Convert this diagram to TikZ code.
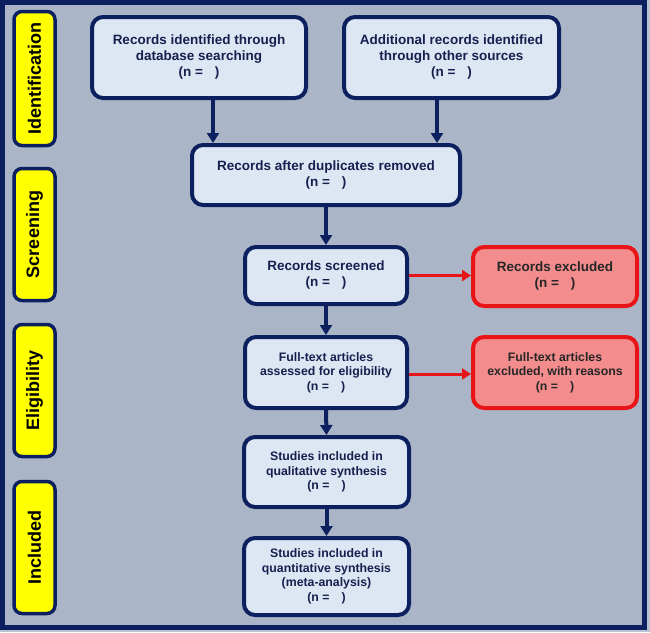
\documentclass[tikz,border=0pt]{standalone}
\usepackage{fontspec}
\setmainfont{Liberation Sans}
\usetikzlibrary{arrows.meta}
\definecolor{bgc}{RGB}{170,182,200}
\definecolor{outerc}{RGB}{185,194,208}
\definecolor{navy}{RGB}{12,32,96}
\definecolor{boxc}{RGB}{221,231,243}
\definecolor{txtc}{RGB}{22,32,78}
\definecolor{redl}{RGB}{232,20,24}
\definecolor{redf}{RGB}{243,140,140}
\definecolor{yel}{RGB}{255,255,0}
\tikzset{
 flow/.style={draw=navy, line width=4pt, fill=boxc, rounded corners=11pt, align=center, text=txtc, font=\bfseries\fontsize{13.5}{16}\selectfont, inner sep=0pt},
 flows/.style={flow, font=\bfseries\fontsize{12.3}{14.5}\selectfont},
 excl/.style={flow, draw=redl, fill=redf, text=black!85},
 phase/.style={draw=navy, line width=3.5pt, fill=yel, rounded corners=8pt, rotate=90, font=\bfseries\fontsize{18}{20}\selectfont, minimum height=41pt, inner sep=0pt},
 arr/.style={draw=navy, line width=4pt, -{Triangle[length=10pt,width=12pt]}},
 rarr/.style={draw=redl, line width=3pt, -{Triangle[length=9pt,width=11pt]}},
}
\newcommand{\nn}{(n =\hspace{12pt})}
\begin{document}
\begin{tikzpicture}[x=1pt,y=-1pt]
\useasboundingbox (0,0) rectangle (650,632);
\fill[outerc] (0,0) rectangle (650,632);
\draw[navy, line width=5pt, fill=bgc] (2.5,2.5) rectangle (644.5,627.5);

% phase labels
\node[phase, minimum width=134pt] (pid) at (34.5,78.5) {Identification};
\node[phase, minimum width=132pt] (psc) at (34.5,234.5) {Screening};
\node[phase, minimum width=132pt] (pel) at (34.5,390.5) {Eligibility};
\node[phase, minimum width=132pt] (pin) at (34.5,547.5) {Included};

% flow boxes
\node[flow, minimum width=214pt, minimum height=81pt] (id1) at (199,57.5) {Records identified through\\database searching\\\nn};
\node[flow, minimum width=215pt, minimum height=81pt] (id2) at (451.5,57.5) {Additional records identified\\through other sources\\\nn};
\node[flow, minimum width=268pt, minimum height=60pt] (dup) at (326,175) {Records after duplicates removed\\\nn};
\node[flow, minimum width=162pt, minimum height=57pt] (scr) at (326,275.5) {Records screened\\\nn};
\node[excl, minimum width=164pt, minimum height=59pt] (exc) at (555,276.5) {Records excluded\\\nn};
\node[flows, minimum width=162pt, minimum height=71pt] (full) at (326,372.5) {Full-text articles\\assessed for eligibility\\\nn};
\node[excl, font=\bfseries\fontsize{12.3}{14.5}\selectfont, minimum width=164pt, minimum height=71pt] (fexc) at (555,372.5) {Full-text articles\\excluded, with reasons\\\nn};
\node[flows, minimum width=165pt, minimum height=70pt] (qual) at (326.5,472) {Studies included in\\qualitative synthesis\\\nn};
\node[flows, minimum width=165pt, minimum height=77pt] (quant) at (326.5,576.5) {Studies included in\\quantitative synthesis\\(meta-analysis)\\\nn};

% connectors
\draw[arr] ([xshift=14pt]id1.south) -- ([xshift=14pt]id1.south |- dup.north);
\draw[arr] ([xshift=-14.5pt]id2.south) -- ([xshift=-14.5pt]id2.south |- dup.north);
\draw[arr] (dup.south) -- (scr.north);
\draw[arr] (scr.south) -- (full.north);
\draw[arr] (full.south) -- (qual.north);
\draw[arr] (qual.south) -- (quant.north);
\draw[rarr] (scr.east) -- (scr.east -| exc.west);
\draw[rarr] ([yshift=-1.5pt]full.east) -- ([yshift=-1.5pt]full.east -| fexc.west);
\end{tikzpicture}
\end{document}
